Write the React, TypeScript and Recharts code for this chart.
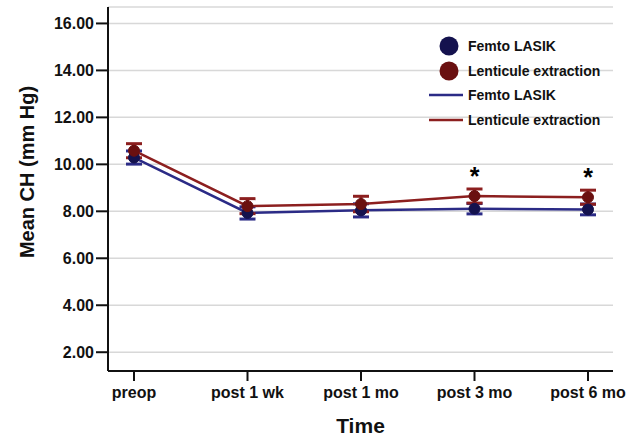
import React from 'react';
import { ComposedChart, Line, XAxis, YAxis, CartesianGrid, ErrorBar, LabelList, Label } from 'recharts';

const categories = ['preop', 'post 1 wk', 'post 1 mo', 'post 3 mo', 'post 6 mo'];
const femtoMean = [10.29, 7.93, 8.04, 8.11, 8.08];
const femtoErr = [0.28, 0.26, 0.28, 0.22, 0.23];
const lentMean = [10.58, 8.22, 8.31, 8.65, 8.60];
const lentErr = [0.3, 0.32, 0.33, 0.3, 0.3];
const significant = [false, false, false, true, true];
const yTicks = [2, 4, 6, 8, 10, 12, 14, 16];

const data = categories.map((c, i) => ({
  time: c,
  femto: femtoMean[i],
  femtoErr: femtoErr[i],
  lent: lentMean[i],
  lentErr: lentErr[i],
  sig: significant[i],
}));

const FONT = '"Liberation Sans", Arial, sans-serif';
const BLUE_LINE = '#2b2b86';
const BLUE_DOT = '#14124e';
const RED_LINE = '#8c1f1f';
const RED_DOT = '#6a1010';

const legendItems = [
  { kind: 'dot', color: BLUE_DOT, label: 'Femto LASIK' },
  { kind: 'dot', color: RED_DOT, label: 'Lenticule extraction' },
  { kind: 'line', color: BLUE_LINE, label: 'Femto LASIK' },
  { kind: 'line', color: RED_LINE, label: 'Lenticule extraction' },
];

const LegendBox = () => (
  <div
    style={{
      position: 'absolute',
      left: 426,
      top: 34,
      fontFamily: FONT,
      fontWeight: 700,
      fontSize: 14,
      color: '#111',
    }}
  >
    {legendItems.map((it, i) => (
      <div key={i} style={{ display: 'flex', alignItems: 'center', height: 24.5 }}>
        <svg width={40} height={22} style={{ marginRight: 2 }}>
          {it.kind === 'dot' ? (
            <circle cx={23} cy={11} r={9.5} fill={it.color} />
          ) : (
            <line x1={3} x2={37} y1={11} y2={11} stroke={it.color} strokeWidth={2.5} />
          )}
        </svg>
        <span>{it.label}</span>
      </div>
    ))}
  </div>
);

const Star = (props: any) => {
  const { x, y, index } = props;
  if (!significant[index]) return null;
  return (
    <text x={x} y={y - 11} textAnchor="middle" fontFamily={FONT} fontWeight={700} fontSize={25} fill="#000">
      *
    </text>
  );
};

export default function App() {
  return (
    <div style={{ position: 'absolute', left: 0, top: 0, width: 642, height: 440, background: '#fff' }}>
      <ComposedChart
        width={642}
        height={440}
        data={data}
        margin={{ top: 7, right: 29, bottom: 0, left: 30 }}
      >
        <CartesianGrid vertical={false} stroke="#d8d8d8" strokeWidth={1.5} />
        <XAxis
          dataKey="time"
          type="category"
          scale="point"
          padding={{ left: 26, right: 25 }}
          height={69}
          stroke="#111"
          strokeWidth={2}
          tickSize={10}
          tickMargin={6}
          tick={{ fontFamily: FONT, fontWeight: 700, fontSize: 16, fill: '#111' }}
          tickLine={{ stroke: '#111', strokeWidth: 2 }}
        >
          <Label
            value="Time"
            position="insideBottom"
            offset={7}
            style={{ fontFamily: FONT, fontWeight: 700, fontSize: 21, fill: '#111' }}
          />
        </XAxis>
        <YAxis
          type="number"
          domain={[1.2, 16.7]}
          ticks={yTicks}
          allowDataOverflow
          width={78}
          stroke="#111"
          strokeWidth={2}
          tickSize={12}
          tickMargin={2}
          tickFormatter={(v: number) => v.toFixed(2)}
          tick={{ fontFamily: FONT, fontWeight: 700, fontSize: 16, fill: '#111' }}
          tickLine={{ stroke: '#111', strokeWidth: 2 }}
        >
          <Label
            content={() => (
              <text
                x={27}
                y={172}
                transform="rotate(-90 27 172)"
                textAnchor="middle"
                dominantBaseline="central"
                fontFamily={FONT}
                fontWeight={700}
                fontSize={20}
                fill="#111"
              >
                Mean CH (mm Hg)
              </text>
            )}
          />
        </YAxis>
        <Line
          dataKey="femto"
          stroke={BLUE_LINE}
          strokeWidth={2.5}
          dot={{ r: 5.5, fill: BLUE_DOT, stroke: BLUE_DOT, strokeWidth: 1 }}
          isAnimationActive={false}
        >
          <ErrorBar dataKey="femtoErr" direction="y" width={8} stroke={BLUE_LINE} strokeWidth={3} />
        </Line>
        <Line
          dataKey="lent"
          stroke={RED_LINE}
          strokeWidth={2.5}
          dot={{ r: 5.5, fill: RED_DOT, stroke: RED_DOT, strokeWidth: 1 }}
          isAnimationActive={false}
        >
          <ErrorBar dataKey="lentErr" direction="y" width={8} stroke={RED_LINE} strokeWidth={3} />
          <LabelList dataKey="lent" content={<Star />} />
        </Line>
      </ComposedChart>
      <LegendBox />
    </div>
  );
}
